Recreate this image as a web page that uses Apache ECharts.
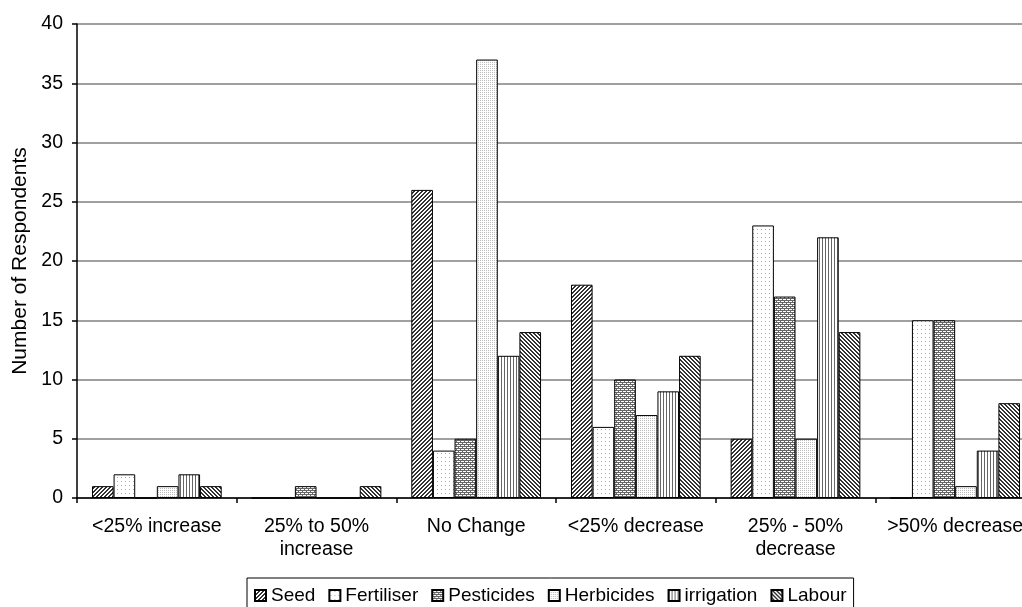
<!DOCTYPE html>
<html>
<head>
<meta charset="utf-8">
<title>Expected change in input use</title>
<script src="https://cdn.jsdelivr.net/npm/echarts@6/dist/echarts.min.js"></script>
<style>
  html, body { margin: 0; padding: 0; background: #fff; overflow: hidden; }
  #chart { width: 1040px; height: 607px; }
</style>
</head>
<body>
<div id="chart"></div>
<script>
// Response categories along the x axis
const categories = ['<25% increase', '25% to 50%\nincrease', 'No Change', '<25% decrease', '25% - 50%\ndecrease', '>50% decrease'];

// Number of respondents per input
const seed       = [1, 0, 26, 18, 5, 0];
const fertiliser = [2, 0, 4, 6, 23, 15];
const pesticides = [0, 1, 5, 10, 17, 15];
const herbicides = [1, 0, 37, 7, 5, 1];
const irrigation = [2, 0, 12, 9, 22, 4];
const labour     = [1, 1, 14, 12, 14, 8];

const seriesNames = ['Seed', 'Fertiliser', 'Pesticides', 'Herbicides', 'irrigation', 'Labour'];

// Small repeating tiles used as monochrome hatch fills
function tile(w, h, paint) {
  const c = document.createElement('canvas');
  c.width = w; c.height = h;
  const ctx = c.getContext('2d');
  ctx.fillStyle = '#fff';
  ctx.fillRect(0, 0, w, h);
  for (let y = 0; y < h; y++) {
    for (let x = 0; x < w; x++) {
      const col = paint(x, y);
      if (col) { ctx.fillStyle = col; ctx.fillRect(x, y, 1, 1); }
    }
  }
  return { image: c, repeat: 'repeat' };
}

const fills = {
  Seed: tile(4, 4, (x, y) => ((x + y) % 4 < 2 ? '#333' : null)),
  Fertiliser: tile(4, 4, (x, y) => (x === 1 && y === 1 ? '#aaa' : null)),
  Pesticides: tile(4, 4, (x, y) => {
    if (y === 0 || y === 2) return '#666';
    if (y === 1 && x === 0) return '#666';
    if (y === 3 && x === 2) return '#666';
    return null;
  }),
  Herbicides: tile(2, 2, (x, y) => (x === 0 && y === 0 ? '#bbb' : null)),
  irrigation: tile(3, 1, (x) => (x === 0 ? '#666' : null)),
  Labour: tile(4, 4, (x, y) => (((x - y) % 4 + 4) % 4 < 2 ? '#333' : null))
};

const values = [seed, fertiliser, pesticides, herbicides, irrigation, labour];
const font = "'Liberation Sans', Arial, sans-serif";

const series = seriesNames.map((name, i) => ({
  name: name,
  type: 'bar',
  data: values[i],
  barGap: '0%',
  barCategoryGap: '18.75%',
  itemStyle: { color: fills[name], borderColor: '#000', borderWidth: 1 },
  emphasis: { disabled: true }
}));

const chart = echarts.init(document.getElementById('chart'), null, { renderer: 'canvas' });
chart.setOption({
  animation: false,
  backgroundColor: '#fff',
  textStyle: { fontFamily: font, color: '#000' },
  grid: { left: 77, right: 5, top: 24, bottom: 109, containLabel: false },
  legend: {
    data: seriesNames,
    left: 247,
    top: 578,
    orient: 'horizontal',
    icon: 'rect',
    itemWidth: 11,
    itemHeight: 11,
    itemGap: 13,
    padding: [8, 7, 5, 7],
    borderColor: '#000',
    borderWidth: 1,
    textStyle: { fontSize: 19, color: '#000', fontFamily: font },
    selectedMode: false
  },
  xAxis: {
    type: 'category',
    data: categories,
    axisLine: { show: true, lineStyle: { color: '#000', width: 1.5 } },
    axisTick: { show: true, length: 5, inside: false, alignWithLabel: false, interval: 0, lineStyle: { color: '#000', width: 1.5 } },
    axisLabel: { interval: 0, fontSize: 19.5, color: '#000', fontFamily: font, margin: 17, lineHeight: 23 },
    splitLine: { show: false }
  },
  yAxis: {
    type: 'value',
    min: 0,
    max: 40,
    interval: 5,
    name: 'Number of Respondents',
    nameLocation: 'middle',
    nameRotate: 90,
    nameGap: 45,
    nameTextStyle: { fontSize: 21, color: '#000', fontFamily: font },
    axisLine: { show: true, lineStyle: { color: '#000', width: 1.5 } },
    axisTick: { show: true, length: 5, inside: false, lineStyle: { color: '#000', width: 1.5 } },
    axisLabel: { fontSize: 19.5, color: '#000', fontFamily: font, margin: 14 },
    splitLine: { show: true, lineStyle: { color: '#808080', width: 1.5 } }
  },
  series: series
});
</script>
</body>
</html>
